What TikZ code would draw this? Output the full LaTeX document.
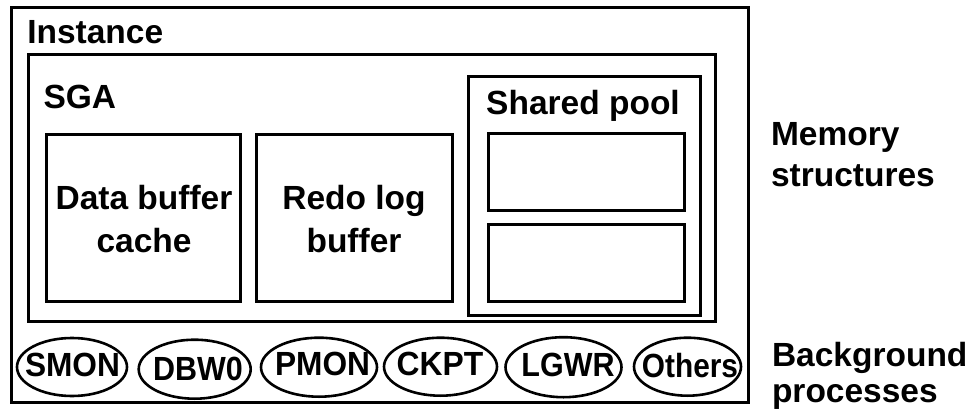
\documentclass[tikz,border=0pt]{standalone}
\usepackage{fontspec}
\setmainfont{Liberation Sans}
\usetikzlibrary{shapes.geometric}
\begin{document}
\begin{tikzpicture}[x=1pt,y=-1pt,
  box/.style={draw, line width=3pt, rectangle, inner sep=0pt, outer sep=0pt},
  proc/.style={draw, line width=2.6pt, ellipse, inner sep=0pt, outer sep=0pt},
  lbl/.style={inner sep=0pt, outer sep=0pt, font=\bfseries\fontsize{33.5}{43}\selectfont},
]
\useasboundingbox (0,0) rectangle (974,409);
% containers
\node[box, minimum width=737pt, minimum height=394pt] (inst) at (379.5,205) {};
\node[box, minimum width=686.5pt, minimum height=267pt] (sga) at (371.75,188) {};
\node[box, minimum width=194.5pt, minimum height=166.6pt] (dbc) at (143.25,218) {};
\node[box, minimum width=196pt, minimum height=166.6pt] (redo) at (354.5,218) {};
\node[box, minimum width=231.8pt, minimum height=239pt] (pool) at (584.6,196.2) {};
\node[box, minimum width=196pt, minimum height=77.4pt] (pool1) at (586.3,172) {};
\node[box, minimum width=196pt, minimum height=77.4pt] (pool2) at (586.3,263) {};
% labels
\node[lbl, anchor=base west] (tinst) at (27.3,43.3) {Instance};
\node[lbl, anchor=base west] (tsga) at (43.5,108.3) {SGA};
\node[lbl, anchor=base, align=center] (tdbc) at (144,252) {Data buffer\\cache};
\node[lbl, anchor=base, align=center] (tredo) at (354,252) {Redo log\\buffer};
\node[lbl, anchor=base] (tpool) at (583,115) {Shared pool};
\node[lbl, anchor=base west, align=left, font=\bfseries\fontsize{33.5}{41}\selectfont] (tmem) at (771,186) {Memory\\structures};
\node[lbl, anchor=base west, align=left, font=\bfseries\fontsize{33.5}{36}\selectfont] (tbg) at (772,402) {Background\\processes};
% background processes
\node[proc, minimum width=110pt, minimum height=58pt] (smon) at (72,367) {};
\node[proc, minimum width=112pt, minimum height=59pt] (dbw) at (194.7,369.2) {};
\node[proc, minimum width=116pt, minimum height=59pt] (pmon) at (319,367.2) {};
\node[proc, minimum width=113pt, minimum height=58pt] (ckpt) at (440.5,366.7) {};
\node[proc, minimum width=116pt, minimum height=60pt] (lgwr) at (563.5,367.2) {};
\node[proc, minimum width=107pt, minimum height=58pt] (others) at (687.5,366.7) {};
\node[lbl, anchor=base] (tsmon) at (72.5,376.7) {\scalebox{0.945}[1]{SMON}};
\node[lbl, anchor=base] (tdbw) at (198,380) {\scalebox{0.91}[1]{DBW0}};
\node[lbl, anchor=base] (tpmon) at (322.5,375) {\scalebox{0.945}[1]{PMON}};
\node[lbl, anchor=base] (tckpt) at (440,375) {\scalebox{0.95}[1]{CKPT}};
\node[lbl, anchor=base] (tlgwr) at (568,376.7) {\scalebox{0.91}[1]{LGWR}};
\node[lbl, anchor=base] (tothers) at (690,377) {\scalebox{0.89}[1]{Others}};
\end{tikzpicture}
\end{document}
